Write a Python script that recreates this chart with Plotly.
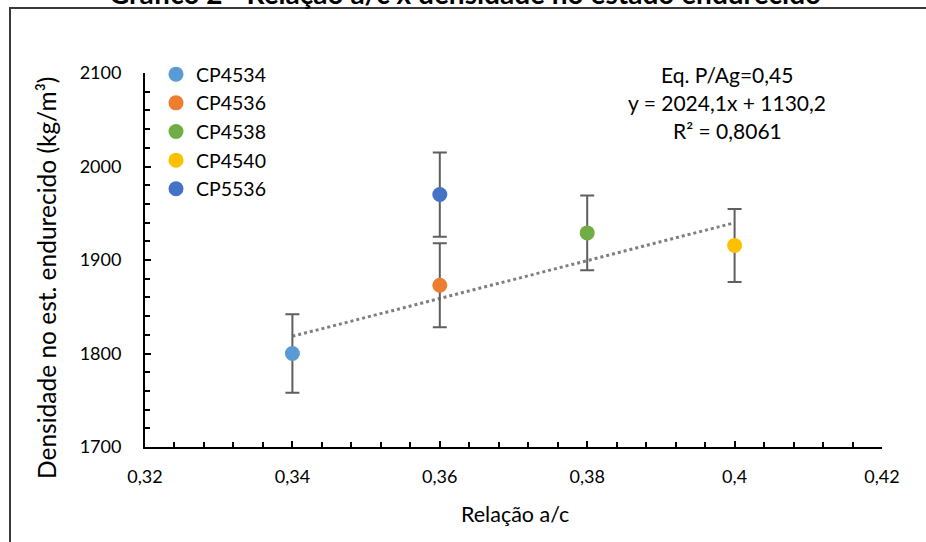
import plotly.graph_objects as go

# Water/cement ratio vs. hardened-state density
series_names = ["CP4534", "CP4536", "CP4538", "CP4540", "CP5536"]
ratio_ac = [0.34, 0.36, 0.38, 0.40, 0.36]
density = [1800, 1873, 1929, 1915.5, 1970]
density_err = [42, 45, 40, 39, 45]
colors = ["#5B9BD5", "#ED7D31", "#70AD47", "#FFC000", "#4472C4"]

# Linear trend for P/Ag = 0,45 series
trend_slope = 2024.1
trend_intercept = 1130.2
trend_r2 = 0.8061
trend_x = [0.34, 0.40]
trend_y = [trend_slope * x + trend_intercept for x in trend_x]

x_ticks = [0.32, 0.34, 0.36, 0.38, 0.40, 0.42]
y_ticks = [1700, 1800, 1900, 2000, 2100]

FONT = "Lato, Carlito, 'Open Sans', sans-serif"

W, H = 926, 542
ML, MR, MT, MB = 145, 44, 73, 95
PW, PH = W - ML - MR, H - MT - MB


def px_x(p):
    return (p - ML) / PW


def px_y(p):
    return (H - MB - p) / PH


fig = go.Figure()

fig.add_trace(go.Scatter(
    x=trend_x, y=trend_y, mode="lines",
    line=dict(color="#7F7F7F", width=3, dash="dot"),
    showlegend=False, hoverinfo="skip",
))

for name, x, y, err, c in zip(series_names, ratio_ac, density, density_err, colors):
    fig.add_trace(go.Scatter(
        x=[x], y=[y], mode="markers", name=name, legendgroup=name,
        marker=dict(color=c, size=15, line=dict(width=0)),
        error_y=dict(type="data", array=[err], visible=True,
                     color="#5F5F5F", thickness=2, width=7),
    ))

fig.update_layout(
    width=W, height=H,
    margin=dict(l=ML, r=MR, t=MT, b=MB),
    paper_bgcolor="white", plot_bgcolor="white",
    separators=", ",
    font=dict(family=FONT, size=17, color="#000000"),
    showlegend=True,
    legend=dict(
        x=px_x(156), y=px_y(55), xanchor="left", yanchor="top",
        bgcolor="rgba(0,0,0,0)", font=dict(size=19.5, family=FONT),
        tracegroupgap=0.3, itemwidth=30,
    ),
    xaxis=dict(
        range=[0.32, 0.42 + 1e-9], tickvals=x_ticks,
        showline=True, linecolor="#000000", linewidth=2,
        ticks="inside", ticklen=6, tickwidth=1.5, tickcolor="#000000",
        minor=dict(dtick=0.004, ticks="inside", ticklen=5, tickwidth=1.5, tickcolor="#000000"),
        showgrid=False, zeroline=False,
        tickfont=dict(size=18), ticklabelstandoff=12,
    ),
    yaxis=dict(
        range=[1700, 2100], tickvals=y_ticks,
        showline=True, linecolor="#000000", linewidth=2,
        ticks="inside", ticklen=6, tickwidth=1.5, tickcolor="#000000",
        minor=dict(dtick=20, ticks="inside", ticklen=5, tickwidth=1.5, tickcolor="#000000"),
        showgrid=False, zeroline=False,
        tickfont=dict(size=18), ticklabelstandoff=18,
    ),
)

# Axis titles
fig.add_annotation(
    text="Relação a/c", xref="paper", yref="paper",
    x=px_x(515), y=px_y(514),
    xanchor="center", yanchor="middle", showarrow=False,
    font=dict(size=21.5, family=FONT),
)
fig.add_annotation(
    text="Densidade no est. endurecido (kg/m³)", xref="paper", yref="paper",
    x=px_x(46), y=px_y(278), textangle=-90,
    xanchor="center", yanchor="middle", showarrow=False,
    font=dict(size=24.5, family=FONT),
)

# Trendline label
eq_lines = [
    "Eq. P/Ag=0,45",
    "y = {}x + {}".format(f"{trend_slope:.1f}".replace(".", ","), f"{trend_intercept:.1f}".replace(".", ",")),
    "R² = {}".format(f"{trend_r2:.4f}".replace(".", ",")),
]
for i, line in enumerate(eq_lines):
    fig.add_annotation(
        text=line, xref="paper", yref="paper",
        x=px_x(727), y=px_y(74 + 28 * i),
        xanchor="center", yanchor="middle", showarrow=False,
        font=dict(size=21, family=FONT),
    )

# Chart title (sits above the frame)
fig.add_annotation(
    text="<b>Gráfico 2 - Relação a/c x densidade no estado endurecido</b>",
    xref="paper", yref="paper",
    x=px_x(465), y=px_y(12),
    xanchor="center", yanchor="bottom", showarrow=False,
    font=dict(size=28, family=FONT),
)

# Outer chart frame
fig.add_shape(
    type="rect", xref="paper", yref="paper",
    x0=px_x(10), x1=px_x(W + 20), y0=px_y(H + 20), y1=px_y(8),
    line=dict(color="#3A3A3A", width=2), fillcolor="rgba(0,0,0,0)", layer="below",
)

fig.write_html("out.html")
